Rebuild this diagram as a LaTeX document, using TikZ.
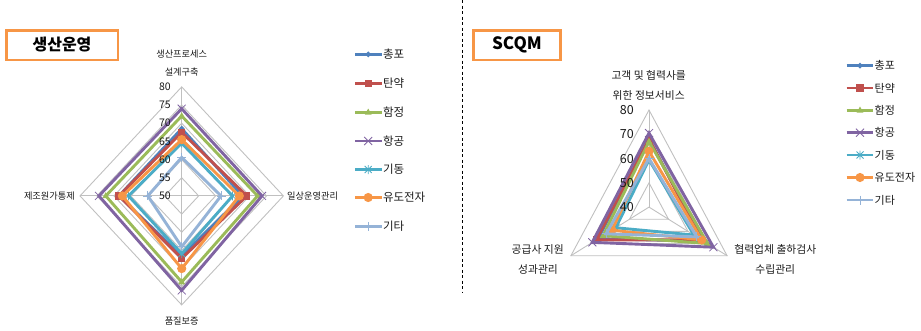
\documentclass[tikz,border=0pt]{standalone}
\usepackage{fontspec}
\setmainfont{Noto Sans CJK KR}
\definecolor{cA}{HTML}{4F81BD}
\definecolor{cB}{HTML}{C0504D}
\definecolor{cC}{HTML}{9BBB59}
\definecolor{cD}{HTML}{8064A2}
\definecolor{cE}{HTML}{4BACC6}
\definecolor{cF}{HTML}{F79646}
\definecolor{cG}{HTML}{95B3D7}
\definecolor{gridc}{HTML}{C0C0C0}
\definecolor{boxc}{HTML}{F79646}
\definecolor{txtc}{HTML}{1A1A1A}
\tikzset{
  gridln/.style={draw=gridc, line width=0.9pt},
  series/.style={line width=2.9pt},
  legln/.style={line width=2.9pt},
  titlebox/.style={draw=boxc, line width=2.5pt, minimum height=29.5pt, inner sep=0pt, font=\bfseries},
  ticklbl/.style={anchor=east, inner sep=0pt, text=txtc},
  axlblL/.style={inner sep=0pt, font=\fontsize{9.2}{10}\selectfont, text=txtc},
  axlblR/.style={inner sep=0pt, font=\fontsize{10.8}{12}\selectfont, text=txtc},
  legtxt/.style={anchor=west, inner sep=0pt, font=\fontsize{11.5}{13}\selectfont, text=txtc},
  legtxtR/.style={anchor=west, inner sep=0pt, font=\fontsize{11}{13}\selectfont, text=txtc},
  mkdia/.pic={\fill (-3,0)--(0,-3)--(3,0)--(0,3)--cycle;},
  mksq/.pic={\fill (-3.6,-3.6) rectangle (3.6,3.6);},
  mktri/.pic={\fill (0,-3.8)--(3.4,2.3)--(-3.4,2.3)--cycle;},
  mkx/.pic={\draw[line width=0.8pt] (-4,-4)--(4,4) (-4,4)--(4,-4);},
  mkstar/.pic={\draw[line width=0.8pt] (-3.5,-3.5)--(3.5,3.5) (-3.5,3.5)--(3.5,-3.5) (0,-4.5)--(0,4.5);},
  mkcirc/.pic={\fill (0,0) circle (4.6);},
  mkplus/.pic={\draw[line width=0.8pt] (-4.5,0)--(4.5,0) (0,-4.5)--(0,4.5);},
}
% left radar: center (181.7,195.9), 50..80, ry=109, rx=101.7
\newcommand\radL[6]{%
  \draw[series,#1] (181.7,{195.9-(#3-50)*109/30}) coordinate (p1)
    -- ({181.7+(#4-50)*101.7/30},195.9) coordinate (p2)
    -- (181.7,{195.9+(#5-50)*109/30}) coordinate (p3)
    -- ({181.7-(#6-50)*101.7/30},195.9) coordinate (p4) -- cycle;
  \foreach \q in {p1,p2,p3,p4} \pic[#1] at (\q) {#2};
}
% right radar: center (649,207.1), 40..80
\newcommand\radR[5]{%
  \draw[series,#1] (649,{207.1-(#3-40)*97.1/40}) coordinate (p1)
    -- ({649+(#4-40)*78.1/40},{207.1+(#4-40)*48.6/40}) coordinate (p2)
    -- ({649-(#5-40)*78.1/40},{207.1+(#5-40)*48.6/40}) coordinate (p3) -- cycle;
  \foreach \q in {p1,p2,p3} \pic[#1] at (\q) {#2};
}
\newcommand\legL[4]{% color marker y text
  \draw[legln,#1] (355,#3) coordinate (la) -- (381.5,#3) coordinate (lb);
  \pic[#1] at (368.2,#3) {#2};
  \node[legtxt] at (382.8,#3) {#4};
}
\newcommand\legR[4]{%
  \draw[legln,#1] (846.7,#3) coordinate (la) -- (873.3,#3) coordinate (lb);
  \pic[#1] at (860,#3) {#2};
  \node[legtxtR] at (874.5,#3) {#4};
}
\begin{document}
\begin{tikzpicture}[x=1pt,y=-1pt]
\useasboundingbox (0,0) rectangle (921,330);
% divider
\draw[dash pattern=on 3pt off 2.5pt, line width=0.7pt] (462.6,0) coordinate (d1) -- (462.6,293) coordinate (d2);
% titles
\node[titlebox, minimum width=111.5pt, font=\bfseries\fontsize{16}{18}\selectfont] (t1) at (62,45) {생산운영};
\node[titlebox, minimum width=86.9pt, font=\bfseries\fontsize{17}{19}\selectfont] (t2) at (517,45) {SCQM};
% ---------- left grid ----------
\foreach \v in {55,60,...,80}
  \draw[gridln] (181.7,{195.9-(\v-50)*109/30}) -- ({181.7+(\v-50)*101.7/30},195.9)
     -- (181.7,{195.9+(\v-50)*109/30}) -- ({181.7-(\v-50)*101.7/30},195.9) -- cycle;
\draw[gridln] (181.7,86.9) -- (181.7,304.9);
\draw[gridln] (80,195.9) -- (283.4,195.9);
% left series
\radL{cA}{mkdia}{68.5}{68}{66.5}{68.5}
\radL{cB}{mksq}{67.5}{69.2}{67.2}{68.5}
\radL{cC}{mktri}{72}{72.4}{73.7}{72.4}
\radL{cD}{mkx}{74}{73.7}{76}{74.4}
\radL{cE}{mkstar}{64.5}{65}{65.9}{65.7}
\radL{cF}{mkcirc}{65.5}{67}{70}{67.5}
\radL{cG}{mkplus}{60.6}{61.6}{64}{60}
\foreach \v in {50,55,...,80}
  \node[ticklbl, font=\fontsize{10.5}{12}\selectfont] at (171,{195.9-(\v-50)*109/30}) {\v};
% left axis labels
\node[axlblL] (a1) at (181.7,54.3) {생산프로세스};
\node[axlblL] (a2) at (181.7,71.7) {설계구축};
\node[axlblL, anchor=west] (a3) at (287,196) {일상운영관리};
\node[axlblL] (a4) at (181.7,320.7) {품질보증};
\node[axlblL, anchor=east] (a5) at (75,196) {제조원가통제};
% left legend
\legL{cA}{mkdia}{54.3}{총포}
\legL{cB}{mksq}{83.3}{탄약}
\legL{cC}{mktri}{112.3}{함정}
\legL{cD}{mkx}{141}{항공}
\legL{cE}{mkstar}{169.5}{기동}
\legL{cF}{mkcirc}{197.5}{유도전자}
\legL{cG}{mkplus}{226.5}{기타}
% ---------- right grid ----------
\foreach \v in {50,60,70,80}
  \draw[gridln] (649,{207.1-(\v-40)*97.1/40}) -- ({649+(\v-40)*78.1/40},{207.1+(\v-40)*48.6/40})
     -- ({649-(\v-40)*78.1/40},{207.1+(\v-40)*48.6/40}) -- cycle;
\draw[gridln] (649,207.1) -- (649,110);
\draw[gridln] (649,207.1) -- (727.1,255.7);
\draw[gridln] (649,207.1) -- (570.9,255.7);
% right series
\radR{cA}{mkdia}{68}{68}{66}
\radR{cB}{mksq}{68}{67}{67}
\radR{cC}{mktri}{67}{70}{63.5}
\radR{cD}{mkx}{70.5}{73}{69}
\radR{cE}{mkstar}{59.5}{63}{57}
\radR{cF}{mkcirc}{63}{67}{59}
\radR{cG}{mkplus}{60}{64.5}{62}
\foreach \v in {40,50,...,80}
  \node[ticklbl, font=\fontsize{12.5}{14}\selectfont] at (634,{207.1-(\v-40)*97.1/40}) {\v};
% right axis labels
\node[axlblR] (b1) at (648.7,75) {고객 및 협력사를};
\node[axlblR] (b2) at (648.7,95) {위한 정보서비스};
\node[axlblR] (b3) at (775.3,249) {협력업체 출하검사};
\node[axlblR] (b4) at (775.3,269.3) {수립관리};
\node[axlblR] (b5) at (537.7,249) {공급사 지원};
\node[axlblR] (b6) at (538,269.3) {성과관리};
% right legend
\legR{cA}{mkdia}{65.7}{총포}
\legR{cB}{mksq}{88}{탄약}
\legR{cC}{mktri}{110.3}{함정}
\legR{cD}{mkx}{132.7}{항공}
\legR{cE}{mkstar}{155}{기동}
\legR{cF}{mkcirc}{177.5}{유도전자}
\legR{cG}{mkplus}{200}{기타}
\end{tikzpicture}
\end{document}
